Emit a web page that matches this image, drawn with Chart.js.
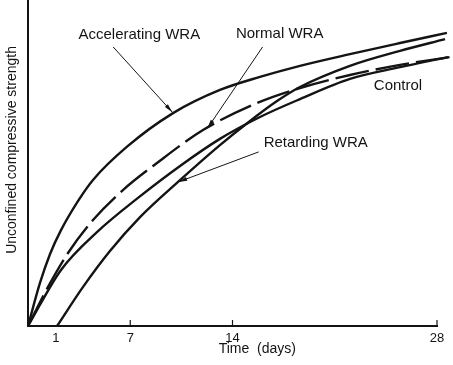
<!DOCTYPE html>
<html>
<head>
<meta charset="utf-8">
<script src="https://cdn.jsdelivr.net/npm/chart.js@4.4.0/dist/chart.umd.min.js"></script>
<style>
  html, body { margin: 0; padding: 0; background: #fff; }
  #wrap { width: 453px; height: 365px; }
</style>
</head>
<body>
<div id="wrap"><canvas id="strengthChart"></canvas></div>
<script>
// Datos (días, resistencia relativa 0-100)
const accelDays  = [0, 0.82, 1.51, 2.26, 3.42, 4.45, 6.78, 9.93, 13.14, 15.88, 18.62, 22.04, 25.47, 28.68];
const accelVals  = [0, 13.2, 22.1, 29.4, 38.3, 44.8, 55.0, 65.3, 72.4, 76.4, 79.8, 83.4, 86.8, 89.9];

const normalDays = [0, 1.37, 2.74, 4.45, 6.50, 8.83, 11.98, 15.68, 18.62, 22.04, 25.47, 28.89];
const normalVals = [0, 12.0, 22.4, 32.5, 41.7, 50.0, 60.1, 68.4, 73.0, 77.0, 80.1, 82.5];

const controlDays = [0, 2.26, 4.72, 7.53, 10.41, 13.14, 15.88, 18.62, 22.04, 25.47, 28.75];
const controlVals = [0, 17.2, 28.8, 39.3, 49.1, 57.4, 64.1, 69.6, 75.8, 79.4, 82.5];

const retardDays = [1.99, 3.77, 5.61, 7.67, 10.27, 13.14, 15.20, 17.05, 18.62, 22.04, 25.47, 28.55];
const retardVals = [0, 12.0, 23.0, 33.4, 44.2, 55.5, 62.9, 69.0, 73.3, 79.8, 84.4, 88.0];

// Marcas del eje x
const xTickAt     = [1.9, 7, 14, 28];
const xTickLabels = ['1', '7', '14', '28'];
const xTickMarks  = [7, 14, 28];

// Etiquetas y flechas (en unidades de datos)
const labels = [
    { text: 'Accelerating WRA', x: 7.62, y: 89.3 },
    { text: 'Normal WRA', x: 17.23, y: 89.6 },
    { text: 'Control', x: 25.33, y: 73.6 },
    { text: 'Retarding WRA', x: 19.7, y: 56.1 }
];
const arrows = [
    { from: [5.83, 85.6], to: [9.88, 65.6] },
    { from: [16.06, 85.6], to: [12.29, 60.7] },
    { from: [15.79, 53.4], to: [10.3, 44.2] }
];

const INK = '#141414';
const FONT = '"Liberation Sans", Arial, sans-serif';

function toPoints(xs, ys) {
    return xs.map((x, i) => ({ x: x, y: ys[i] }));
}

function curve(data, dashed) {
    return {
        data: data,
        borderColor: INK,
        borderWidth: 2.4,
        borderDash: dashed ? [34, 7] : [],
        pointRadius: 0,
        fill: false,
        cubicInterpolationMode: 'monotone',
        clip: false
    };
}

// Dibuja textos, flechas, marcas interiores y títulos de ejes
const extras = {
    id: 'extras',
    afterDraw(chart) {
        const ctx = chart.ctx;
        const xs = chart.scales.x, ys = chart.scales.y;
        const area = chart.chartArea;
        ctx.save();
        ctx.fillStyle = INK;
        ctx.strokeStyle = INK;

        // marcas hacia dentro en el eje x
        ctx.lineWidth = 1.2;
        xTickMarks.forEach(d => {
            const px = xs.getPixelForValue(d);
            ctx.beginPath();
            ctx.moveTo(px, area.bottom);
            ctx.lineTo(px, area.bottom - 6);
            ctx.stroke();
        });

        // etiquetas
        ctx.font = '15px ' + FONT;
        ctx.textAlign = 'center';
        ctx.textBaseline = 'middle';
        labels.forEach(l => {
            ctx.fillText(l.text, xs.getPixelForValue(l.x), ys.getPixelForValue(l.y));
        });

        // flechas
        ctx.lineWidth = 1;
        arrows.forEach(a => {
            const x1 = xs.getPixelForValue(a.from[0]), y1 = ys.getPixelForValue(a.from[1]);
            const x2 = xs.getPixelForValue(a.to[0]), y2 = ys.getPixelForValue(a.to[1]);
            const ang = Math.atan2(y2 - y1, x2 - x1);
            ctx.beginPath();
            ctx.moveTo(x1, y1);
            ctx.lineTo(x2, y2);
            ctx.stroke();
            ctx.beginPath();
            ctx.moveTo(x2, y2);
            ctx.lineTo(x2 - 9 * Math.cos(ang - 0.22), y2 - 9 * Math.sin(ang - 0.22));
            ctx.lineTo(x2 - 9 * Math.cos(ang + 0.22), y2 - 9 * Math.sin(ang + 0.22));
            ctx.closePath();
            ctx.fill();
        });

        // título eje x
        ctx.font = '14px ' + FONT;
        ctx.fillText('Time  (days)', xs.getPixelForValue(15.7), area.bottom + 23);

        // título eje y
        ctx.translate(12, ys.getPixelForValue(54));
        ctx.rotate(-Math.PI / 2);
        ctx.fillText('Unconfined compressive strength', 0, 0);
        ctx.restore();
    }
};

const chart = new Chart(document.getElementById('strengthChart'), {
    type: 'line',
    data: {
        datasets: [
            curve(toPoints(accelDays, accelVals), false),
            curve(toPoints(normalDays, normalVals), true),
            curve(toPoints(controlDays, controlVals), false),
            curve(toPoints(retardDays, retardVals), false)
        ]
    },
    options: {
        responsive: true,
        maintainAspectRatio: false,
        animation: false,
        layout: { padding: { left: 0, right: 16, top: 0, bottom: 0 } },
        plugins: {
            legend: { display: false },
            tooltip: { enabled: false }
        },
        scales: {
            x: {
                type: 'linear',
                min: 0,
                max: 28,
                afterBuildTicks: s => { s.ticks = xTickAt.map(v => ({ value: v })); },
                afterFit: s => { s.height = 39; },
                grid: { display: false, drawTicks: false },
                border: { display: true, color: INK, width: 2 },
                ticks: {
                    autoSkip: false,
                    maxRotation: 0,
                    padding: 5,
                    color: INK,
                    font: { family: FONT, size: 13 },
                    callback: (v, i) => xTickLabels[i]
                }
            },
            y: {
                min: 0,
                max: 100,
                afterFit: s => { s.width = 28; },
                grid: { display: false, drawTicks: false },
                border: { display: true, color: INK, width: 2 },
                ticks: { display: false }
            }
        }
    },
    plugins: [extras]
});
</script>
</body>
</html>
